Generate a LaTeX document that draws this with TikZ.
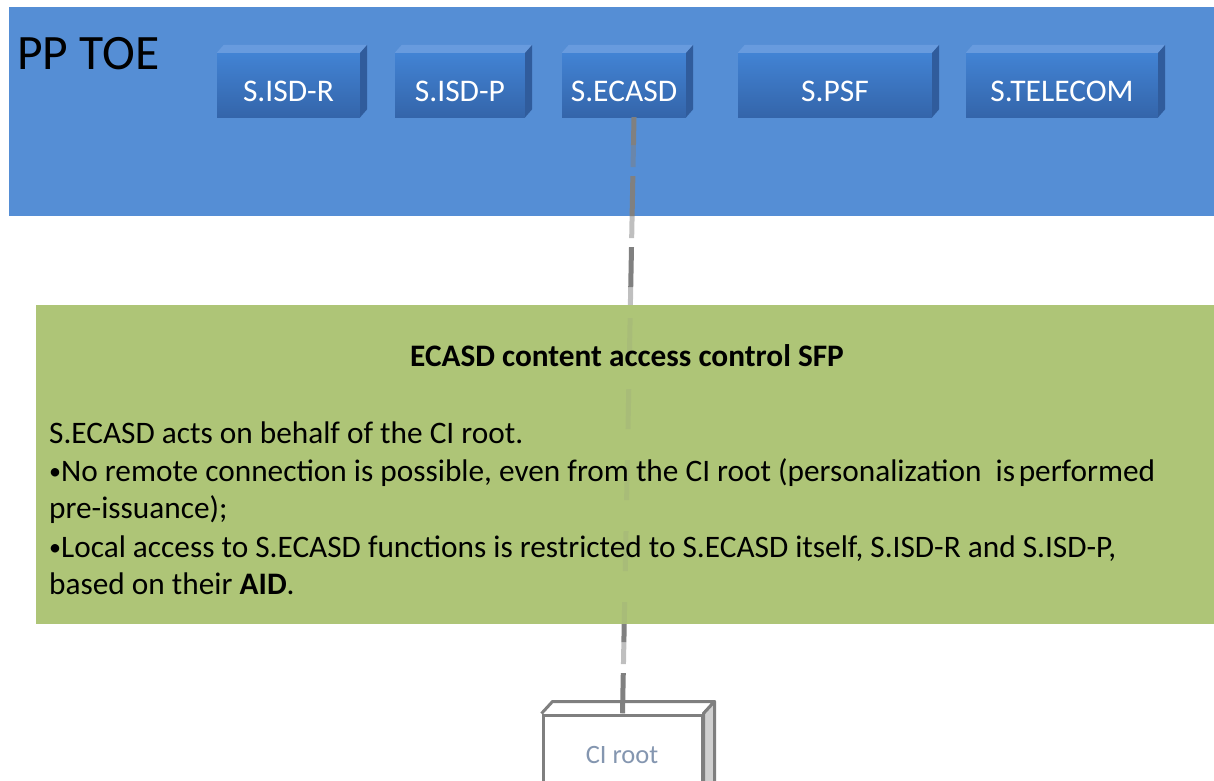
\documentclass[tikz,border=0pt]{standalone}
\usepackage{fontspec}
\setmainfont{Carlito}
\definecolor{toeblue}{RGB}{85,142,213}
\definecolor{sfpgreen}{RGB}{174,197,119}
\definecolor{facetop}{RGB}{66,131,212}
\definecolor{facebot}{RGB}{52,101,170}
\definecolor{bevelcol}{RGB}{104,155,222}
\definecolor{sidecol}{RGB}{48,92,156}
\definecolor{linkgray}{RGB}{128,128,128}
\definecolor{rootline}{RGB}{127,127,127}
\definecolor{rootside}{RGB}{208,208,208}
\definecolor{roottext}{RGB}{132,150,176}
\newcommand{\smallbullet}{{\fontsize{24}{28}\selectfont\raisebox{1.5pt}{•}}}
\begin{document}
\begin{tikzpicture}[x=1pt,y=-1pt,
  face/.style={draw=none, top color=facetop, bottom color=facebot,
    minimum height=64pt, inner sep=0pt},
  facelabel/.style={anchor=base, text=white, font=\fontsize{31.5}{36}\selectfont},
  bevel/.style={fill=bevelcol},
  sidef/.style={fill=sidecol},
  bodytext/.style={anchor=base west, inner sep=0pt, font=\fontsize{31.3}{37}\selectfont},
  linkdark/.style={draw=linkgray, line width=5pt, dash pattern=on 40pt off 31pt, dash phase=12pt},
  linksemi/.style={draw=linkgray, draw opacity=0.5, line width=5pt, dash pattern=on 22pt off 49pt, dash phase=43pt},
  linkfaint/.style={draw=linkgray, draw opacity=0.12, line width=5pt, dash pattern=on 40pt off 31pt, dash phase=12pt},
]
\useasboundingbox (0,0) rectangle (1214,780);

% TOE area
\fill[toeblue] (9,7) rectangle (1214,216);
\node[anchor=base west, inner sep=0pt, font=\fontsize{49.5}{58}\selectfont] (toe) at (17,69) {PP TOE};

% subject boxes (front faces)
\node[face, minimum width=143pt] (isdr) at (288.5,85) {};
\node[face, minimum width=130pt] (isdp) at (460,85) {};
\node[face, minimum width=124pt] (ecasd) at (624,85) {};
\node[face, minimum width=194pt] (psf) at (835,85) {};
\node[face, minimum width=192pt] (tel) at (1062,85) {};

% CI root box
\node[draw=rootline, line width=3pt, fill=white, minimum width=159pt, minimum height=85pt] (ciroot) at (622.5,757.5) {};

% dashed link from S.ECASD down to the CI root
\path[linkdark] ([xshift=10pt]ecasd.south) -- (ciroot.north);
\path[linksemi] ([xshift=10pt]ecasd.south) -- (ciroot.north);

% bevels of the subject boxes
\foreach \n in {isdr,isdp,ecasd,psf,tel}{
  \fill[bevel] (\n.north west) -- ++(7,-8) -- ([xshift=7pt,yshift=8pt]\n.north east) -- (\n.north east) -- cycle;
  \fill[sidef] (\n.north east) -- ++(7,-8) -- ([xshift=7pt,yshift=8pt]\n.south east) -- (\n.south east) -- cycle;
}
\node[facelabel] (isdrT) at ([yshift=-16pt]isdr.center) {S.ISD-R};
\node[facelabel] (isdpT) at ([yshift=-16pt]isdp.center) {S.ISD-P};
\node[facelabel] (ecasdT) at ([yshift=-16pt]ecasd.center) {S.ECASD};
\node[facelabel] (psfT) at ([yshift=-16pt]psf.center) {S.PSF};
\node[facelabel] (telT) at ([yshift=-16pt]tel.center) {S.TELECOM};

% SFP panel, with the link showing faintly through it
\fill[sfpgreen] (36,305) rectangle (1214,624);
\begin{scope}
  \clip (36,305) rectangle (1214,624);
  \path[linkfaint] ([xshift=10pt]ecasd.south) -- (ciroot.north);
\end{scope}
\node[anchor=base, inner sep=0pt, font=\bfseries\fontsize{31.3}{37}\selectfont] (title) at (627,366) {ECASD content access control SFP};
\node[bodytext] (b1) at (49,443) {S.ECASD acts on behalf of the CI root.};
\node[bodytext] (b2) at (49,481) {\smallbullet No remote connection is possible, even from the CI root (personalization\hspace{0.45em}is\hspace{0.12em}performed};
\node[bodytext] (b3) at (49,518) {pre-issuance);};
\node[bodytext] (b4) at (49,557) {\smallbullet Local access to S.ECASD functions is restricted to S.ECASD itself, S.ISD-R and S.ISD-P,};
\node[bodytext] (b5) at (49,594) {based on their \textbf{AID}.};

% CI root box bevels and label
\draw[rootline, line width=3pt, line join=round] (ciroot.north west) -- ++(11,-12) -- ([xshift=11pt,yshift=12pt]ciroot.north east) -- (ciroot.north east);
\draw[rootline, line width=3pt, line join=round, fill=rootside] (ciroot.north east) -- ++(11,-12) -- ([xshift=11pt,yshift=12pt]ciroot.south east) -- (ciroot.south east) -- cycle;
\node[anchor=base, inner sep=0pt, text=roottext, font=\fontsize{26.5}{31}\selectfont] (cirootT) at (622,763) {CI root};
\end{tikzpicture}
\end{document}
